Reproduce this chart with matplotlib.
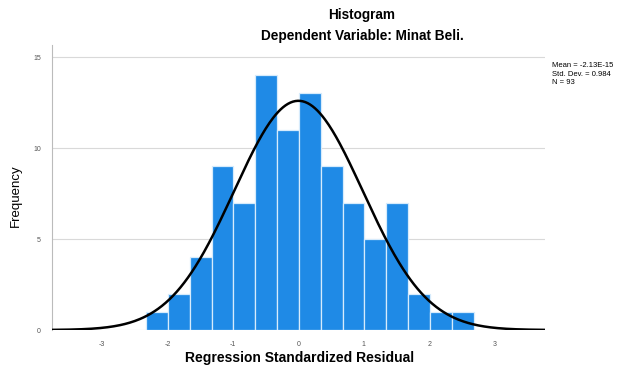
import numpy as np
import matplotlib
matplotlib.use("Agg")
import matplotlib.pyplot as plt

plt.rcParams['font.family'] = ['Liberation Sans', 'DejaVu Sans']
plt.rcParams['axes.unicode_minus'] = False

# histogram of residuals (bin counts) and the fitted normal
bin_start = -2.33
bin_width = 0.334
counts = [1, 2, 4, 9, 7, 14, 11, 13, 9, 7, 5, 7, 2, 1, 1]
mean = -2.13e-15
std_dev = 0.984
n = 93
xticks = [-3, -2, -1, 0, 1, 2, 3]
yticks = [0, 5, 10, 15]

fig = plt.figure(figsize=(6.22, 3.74), dpi=100)
ax = fig.add_axes([0.0836, 0.1176, 0.7924, 0.7621])

edges = bin_start + bin_width * np.arange(len(counts))
ax.bar(edges, counts, width=bin_width, align='edge', color='#1f8ae6',
       edgecolor='#d6ebfc', linewidth=0.9, zorder=2)

xs = np.linspace(-3.77, 3.77, 400)
ys = n * bin_width / (std_dev * np.sqrt(2 * np.pi)) * np.exp(-0.5 * ((xs - mean) / std_dev) ** 2)
ax.plot(xs, ys, color='black', lw=1.8, zorder=3)

ax.set_xlim(-3.77, 3.77)
ax.set_ylim(0, 15.66)
ax.set_xticks(xticks)
ax.set_yticks(yticks)
ax.tick_params(labelsize=5, colors='#555555', length=0, pad=8)
ax.yaxis.grid(True, color='#d9d9d9', lw=0.8, zorder=0)
ax.set_axisbelow(True)
for s in ['top', 'right', 'bottom']:
    ax.spines[s].set_visible(False)
ax.spines['left'].set_color('#bbbbbb')
ax.spines['left'].set_linewidth(0.8)

fig.text(300 / 622, 1 - 358 / 374, 'Regression Standardized Residual', ha='center', va='center',
         fontsize=10, fontweight='bold')
fig.text(16 / 622, 1 - 196 / 374, 'Frequency', ha='center', va='center',
         rotation=90, fontsize=9.5)

fig.text(362 / 622, 1 - 15 / 374, 'Histogram', ha='center', va='center',
         fontsize=9.8, fontweight='bold')
fig.text(362 / 622, 1 - 36 / 374, 'Dependent Variable: Minat Beli.', ha='center', va='center',
         fontsize=9.8, fontweight='bold')
fig.text(552 / 622, 1 - 74 / 374,
         'Mean = -2.13E-15\nStd. Dev. = 0.984\nN = %d' % n,
         ha='left', va='center', fontsize=5.5, linespacing=1.25)

fig.savefig('out.png', dpi=100)
